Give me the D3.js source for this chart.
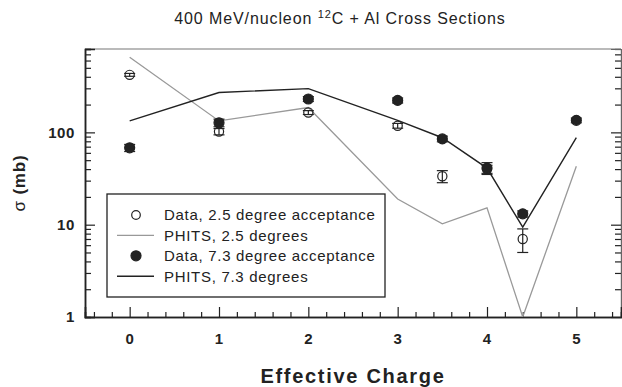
<!DOCTYPE html>
<html>
<head>
<meta charset="utf-8">
<script src="https://cdn.jsdelivr.net/npm/d3@7"></script>
<style>
  html, body { margin: 0; padding: 0; background: #fff; }
  svg { display: block; font-family: "Liberation Sans", Arial, sans-serif; }
</style>
</head>
<body>
<svg id="chart" width="622" height="387"></svg>
<script>
// Effective charge bins
const charges = [0, 1, 2, 3, 3.5, 4, 4.4, 5];

// Measured cross sections (mb), 2.5 degree acceptance
const data25 = [420, 102, 164, 118, 33.5, 40, 7.0, null];
const err25 = [15, 8, 8, 7, 5, 4, 2, null];

// Measured cross sections (mb), 7.3 degree acceptance
const data73 = [68, 127, 230, 222, 85, 41, 13.1, 135];
const err73 = [6, 12, 14, 14, 6, 6, 1, 8];

// PHITS model predictions (mb)
const phits25 = [650, 133, 186, 19, 10.2, 15.2, 1, 43];
const phits73 = [133, 270, 298, 135, 87.5, 41, 9.4, 87.5];

// Axis ticks
const xMajorTicks = [0, 1, 2, 3, 4, 5];
const yLabelTicks = [1, 10, 100];

const legendItems = [
  { label: "Data, 2.5 degree acceptance", kind: "open" },
  { label: "PHITS, 2.5 degrees", kind: "grey" },
  { label: "Data, 7.3 degree acceptance", kind: "filled" },
  { label: "PHITS, 7.3 degrees", kind: "black" }
];

const svg = d3.select("#chart");
const plot = { left: 85, right: 621, top: 49, bottom: 317 };

const x = d3.scaleLinear().domain([-0.5, 5.5]).range([plot.left, plot.right]);
const y = d3.scaleLog().domain([1, 800]).range([plot.bottom, plot.top]);

const dark = "#222";
const grey = "#999";

// Clip region for the model curves
svg.append("defs").append("clipPath").attr("id", "plotClip")
  .append("rect")
  .attr("x", plot.left).attr("y", plot.top)
  .attr("width", plot.right - plot.left).attr("height", plot.bottom - plot.top);

// Frame: top border line
svg.append("line")
  .attr("x1", plot.left).attr("x2", plot.right)
  .attr("y1", plot.top).attr("y2", plot.top)
  .attr("stroke", "#777").attr("stroke-width", 1.2);

// Minor log ticks (2..9 per decade) and majors
const yMinor = [];
for (let d = 1; d < 1000; d *= 10) {
  for (let m = 2; m <= 9; m++) {
    const v = m * d;
    if (v <= 800) yMinor.push(v);
  }
}
const yMajor = [1, 10, 100];

// Left axis: ticks pointing into the plot
const leftAxis = svg.append("g").attr("transform", `translate(${plot.left},0)`)
  .call(d3.axisRight(y).tickValues(yMinor).tickSize(6).tickFormat(""));
leftAxis.append("g").call(d3.axisRight(y).tickValues(yMajor).tickSize(10).tickFormat(""));
leftAxis.selectAll(".domain").attr("stroke", dark).attr("stroke-width", 1.5);
leftAxis.selectAll(".tick line").attr("stroke", dark).attr("stroke-width", 1.2);

// Right axis: ticks pointing into the plot
const rightAxis = svg.append("g").attr("transform", `translate(${plot.right},0)`)
  .call(d3.axisLeft(y).tickValues(yMinor).tickSize(6).tickFormat(""));
rightAxis.append("g").call(d3.axisLeft(y).tickValues(yMajor).tickSize(10).tickFormat(""));
rightAxis.selectAll(".domain").attr("stroke", "#666").attr("stroke-width", 1.2);
rightAxis.selectAll(".tick line").attr("stroke", dark).attr("stroke-width", 1.2);

// Y tick labels
svg.append("g").selectAll("text").data(yLabelTicks).join("text")
  .attr("x", 75).attr("y", d => y(d)).attr("dy", "0.36em")
  .attr("text-anchor", "end")
  .attr("font-size", 15).attr("font-weight", "bold").attr("fill", dark)
  .attr("letter-spacing", 0.6)
  .text(d => d);

// Bottom axis: minor ticks every 0.2, majors at integers
const xMinor = d3.range(-4, 28).map(i => i * 0.2).filter(v => v > -0.5 && v < 5.5 && Math.abs(v - Math.round(v)) > 1e-6);
const bottomAxis = svg.append("g").attr("transform", `translate(0,${plot.bottom})`)
  .call(d3.axisTop(x).tickValues(xMinor).tickSize(5).tickFormat(""));
bottomAxis.append("g").call(d3.axisTop(x).tickValues(xMajorTicks).tickSize(10).tickFormat(""));
bottomAxis.selectAll(".domain").attr("stroke", dark).attr("stroke-width", 1.6);
bottomAxis.selectAll(".tick line").attr("stroke", dark).attr("stroke-width", 1.2);

svg.append("g").selectAll("text").data(xMajorTicks).join("text")
  .attr("x", d => x(d)).attr("y", 344)
  .attr("text-anchor", "middle")
  .attr("font-size", 15).attr("font-weight", "bold").attr("fill", dark)
  .text(d => d);

// Model curves
const line = d3.line().x(d => x(d[0])).y(d => y(d[1]));
const curves = svg.append("g").attr("clip-path", "url(#plotClip)");
curves.append("path")
  .attr("d", line(charges.map((c, i) => [c, phits25[i]])))
  .attr("fill", "none").attr("stroke", grey).attr("stroke-width", 1.3);
curves.append("path")
  .attr("d", line(charges.map((c, i) => [c, phits73[i]])))
  .attr("fill", "none").attr("stroke", dark).attr("stroke-width", 1.4);

// Data points with error bars
function drawSeries(values, errs, filled) {
  const pts = charges.map((c, i) => ({ c, v: values[i], e: errs[i] })).filter(p => p.v != null);
  const g = svg.append("g");
  const eb = g.selectAll("g.eb").data(pts).join("g").attr("class", "eb");
  eb.append("line")
    .attr("x1", p => x(p.c)).attr("x2", p => x(p.c))
    .attr("y1", p => y(p.v + p.e)).attr("y2", p => y(p.v - p.e))
    .attr("stroke", dark).attr("stroke-width", 1.2);
  [1, -1].forEach(s => {
    eb.append("line")
      .attr("x1", p => x(p.c) - 5.5).attr("x2", p => x(p.c) + 5.5)
      .attr("y1", p => y(p.v + s * p.e)).attr("y2", p => y(p.v + s * p.e))
      .attr("stroke", dark).attr("stroke-width", 1.2);
  });
  g.selectAll("circle").data(pts).join("circle")
    .attr("cx", p => x(p.c)).attr("cy", p => y(p.v))
    .attr("r", filled ? 5 : 4.6)
    .attr("fill", filled ? dark : "none")
    .attr("stroke", dark).attr("stroke-width", 1.2);
}
drawSeries(data25, err25, false);
drawSeries(data73, err73, true);

// Legend
const lg = svg.append("g");
lg.append("rect")
  .attr("x", 107).attr("y", 194).attr("width", 278).attr("height", 103)
  .attr("fill", "#fff").attr("stroke", dark).attr("stroke-width", 1.3);
legendItems.forEach((item, i) => {
  const cy = 215 + i * 20.4;
  if (item.kind === "open" || item.kind === "filled") {
    lg.append("circle").attr("cx", 136).attr("cy", cy)
      .attr("r", item.kind === "filled" ? 5 : 4.3)
      .attr("fill", item.kind === "filled" ? dark : "none")
      .attr("stroke", dark).attr("stroke-width", 1.2);
  } else {
    lg.append("line").attr("x1", 117).attr("x2", 154).attr("y1", cy).attr("y2", cy)
      .attr("stroke", item.kind === "grey" ? grey : dark).attr("stroke-width", 1.4);
  }
  lg.append("text").attr("x", 164).attr("y", cy).attr("dy", "0.36em")
    .attr("font-size", 15).attr("fill", dark).attr("letter-spacing", 0.7)
    .text(item.label);
});

// Title
const title = svg.append("text")
  .attr("x", 340).attr("y", 24).attr("text-anchor", "middle")
  .attr("font-size", 16).attr("fill", dark).attr("letter-spacing", 0.9);
title.append("tspan").text("400 MeV/nucleon ");
title.append("tspan").attr("font-size", 11).attr("dy", -6).text("12");
title.append("tspan").attr("dy", 6).text("C + Al Cross Sections");

// Axis titles
svg.append("text")
  .attr("x", 353).attr("y", 383).attr("text-anchor", "middle")
  .attr("font-size", 20).attr("font-weight", "bold").attr("fill", dark)
  .attr("letter-spacing", 1.7)
  .text("Effective Charge");

const yTitle = svg.append("text")
  .attr("transform", "translate(25,183) rotate(-90)")
  .attr("text-anchor", "middle")
  .attr("font-size", 17).attr("fill", dark).attr("letter-spacing", 0.8);
yTitle.append("tspan").attr("font-weight", "normal").text("σ ");
yTitle.append("tspan").attr("font-weight", "bold").text("(mb)");
</script>
</body>
</html>
